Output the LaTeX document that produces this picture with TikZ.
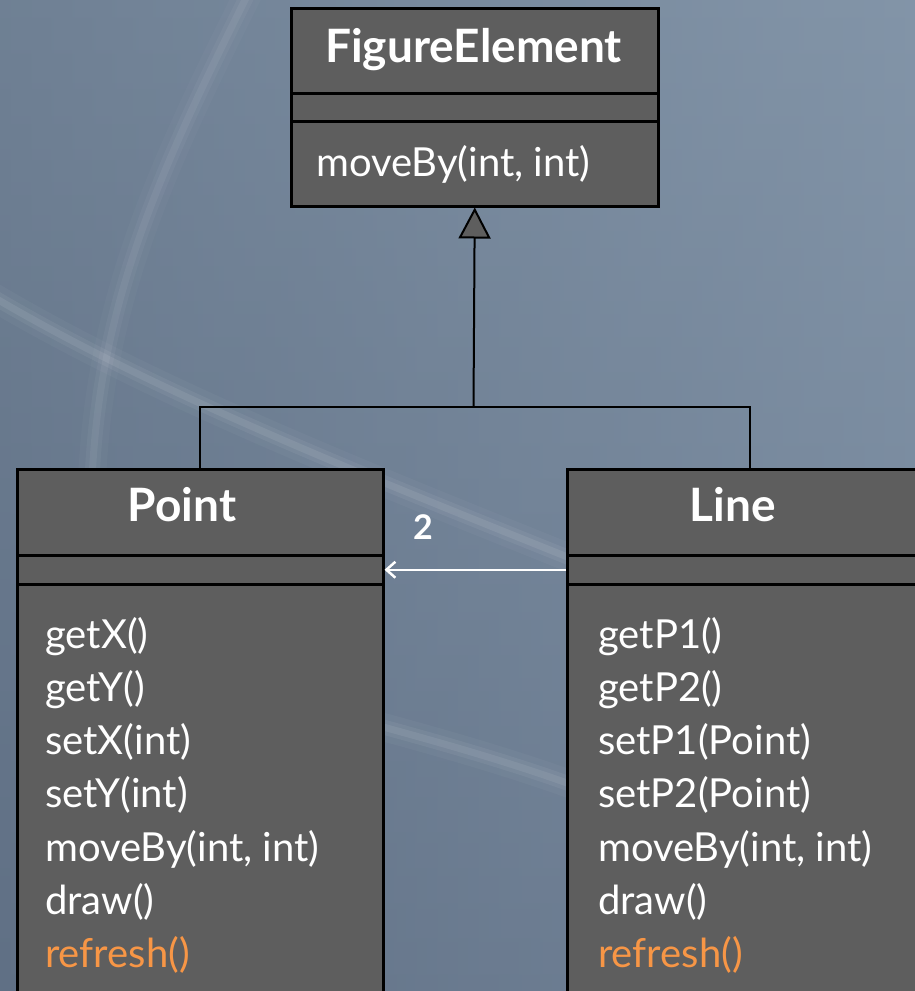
\documentclass[tikz,border=0pt]{standalone}
\usepackage{fontspec}
\setmainfont{Lato}
\usetikzlibrary{arrows.meta}

\definecolor{boxgray}{HTML}{5E5E5E}
\definecolor{skytop}{HTML}{7D8FA2}
\definecolor{skybot}{HTML}{617186}
\definecolor{skydark}{HTML}{5F6F84}
\definecolor{skylight}{HTML}{8A9CB0}
\definecolor{opsorange}{HTML}{F79646}

\tikzset{
  compartment/.style={draw=black, line width=2.5pt, fill=boxgray,
    rectangle, inner sep=0pt, anchor=north west},
  classname/.style={text=white, font=\bfseries\fontsize{46}{54}\selectfont},
  member/.style={text=white, anchor=base west, inner sep=0pt,
    font=\fontsize{40}{48}\selectfont},
  hotmember/.style={member, text=opsorange},
  tree/.style={draw=black, line width=2pt},
  assoc/.style={draw=white, line width=2.5pt,
    -{Straight Barb[length=9pt,width=16pt,line width=2.5pt]}},
  streak/.style={white, line cap=round},
}

\newcommand{\skystreak}[2]{%
  \draw[streak, line width=28pt, opacity=0.03*#2] #1;
  \draw[streak, line width=15pt, opacity=0.05*#2] #1;
  \draw[streak, line width=7pt, opacity=0.07*#2] #1;
}

\begin{document}
\begin{tikzpicture}[x=1pt, y=-1pt]
  \useasboundingbox (0,0) rectangle (915,991);
  \clip (0,0) rectangle (915,991);

  % sky backdrop
  \shade[top color=skytop, bottom color=skybot] (0,0) rectangle (915,991);
  \shade[left color=skydark, right color=skylight, opacity=0.45] (0,0) rectangle (915,991);

  % soft light streaks
  \skystreak{(250,-10) .. controls (160,170) and (100,300) .. (92,480)}{0.8}
  \skystreak{(-10,295) .. controls (150,390) and (350,470) .. (600,570)}{1.1}
  \skystreak{(350,718) .. controls (450,745) and (520,765) .. (600,795)}{1}

  % FigureElement
  \node[compartment, minimum width=367pt, minimum height=85pt] (fe-title) at (290,7) {};
  \node[compartment, minimum width=367pt, minimum height=28pt] (fe-attr) at (290,92) {};
  \node[compartment, minimum width=367pt, minimum height=85pt] (fe-ops) at (290,120) {};
  \node[classname] (fe-name) at (473.5,50) {FigureElement};
  \node[member] (fe-op1) at (316,176) {moveBy(int, int)};

  % Point
  \node[compartment, minimum width=366pt, minimum height=86pt] (pt-title) at (16,468) {};
  \node[compartment, minimum width=366pt, minimum height=29pt] (pt-attr) at (16,554) {};
  \node[compartment, minimum width=366pt, minimum height=430pt] (pt-ops) at (16,583) {};
  \node[classname] (pt-name) at (182,505) {Point};
  \foreach \t [count=\i from 0] in {getX(),getY(),setX(int),setY(int),{moveBy(int, int)},draw()}
    \node[member] (pt-op\i) at (45,648+53.3*\i) {\t};
  \node[hotmember] (pt-op6) at (45,648+53.3*6) {refresh()};

  % Line
  \node[compartment, minimum width=366pt, minimum height=86pt] (ln-title) at (566,468) {};
  \node[compartment, minimum width=366pt, minimum height=29pt] (ln-attr) at (566,554) {};
  \node[compartment, minimum width=366pt, minimum height=430pt] (ln-ops) at (566,583) {};
  \node[classname] (ln-name) at (733,505) {Line};
  \foreach \t [count=\i from 0] in {getP1(),getP2(),setP1(Point),setP2(Point),{moveBy(int, int)},draw()}
    \node[member] (ln-op\i) at (598,648+53.3*\i) {\t};
  \node[hotmember] (ln-op6) at (598,648+53.3*6) {refresh()};

  % generalisation tree
  \coordinate (join) at (473.5,407);
  \draw[tree] (pt-title.north) |- (join);
  \draw[tree] (ln-title.north) |- (join);
  \draw[tree, -{Triangle[length=31pt, width=32pt, line width=2pt, fill=boxgray]}]
    (join) -- (fe-ops.south);

  % association Line -> Point
  \draw[assoc] (ln-attr.west) -- (pt-attr.east);
  \node[text=white, font=\bfseries\fontsize{34}{40}\selectfont] (mult) at (423,527) {2};
\end{tikzpicture}
\end{document}
